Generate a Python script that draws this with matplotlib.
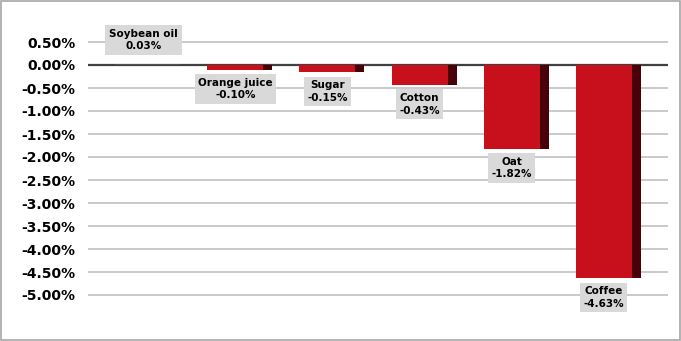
import numpy as np
import matplotlib
matplotlib.use('Agg')
import matplotlib.pyplot as plt
from matplotlib.patches import Rectangle

categories = ['Soybean oil', 'Orange juice', 'Sugar', 'Cotton', 'Oat', 'Coffee']
values = [0.03, -0.10, -0.15, -0.43, -1.82, -4.63]
yticks = [0.5, 0.0, -0.5, -1.0, -1.5, -2.0, -2.5, -3.0, -3.5, -4.0, -4.5, -5.0]

red = '#C8101C'
dark = '#4A0008'

fig = plt.figure(figsize=(6.81, 3.41), dpi=100)
fig.patches.append(Rectangle((0.001, 0.002), 0.997, 0.995, transform=fig.transFigure,
                             fill=False, edgecolor='#A6A6A6', linewidth=1.2))

# axes box chosen so gridlines span x 88..668 px
ax = fig.add_axes([88 / 681, 1 - 297.3 / 341, 580 / 681, (297.3 - 39.7) / 341])
ax.set_xlim(-0.652, 5.652)
ax.set_ylim(-5.05, 0.55)

for t in yticks:
    ax.axhline(t, color='#404040' if t == 0 else '#C0C0C0',
               linewidth=1.6 if t == 0 else 1.2, zorder=1)

x = np.arange(len(categories))
front_w = 56 / 92
side_w = 9 / 92
shift = 4.5 / 92
ax.bar(x - shift, values, width=front_w, color=red, zorder=3)
ax.bar(x - shift + front_w / 2 + side_w / 2, values, width=side_w, color=dark, zorder=3)
# soybean bar is so thin it renders dark
ax.bar(x[0] - shift + side_w / 2, values[0], width=front_w + side_w, color='#505050', zorder=3)

box = dict(boxstyle='square,pad=0.35', fc='#D9D9D9', ec='none')
for xi, v, name in zip(x, values, categories):
    txt = f'{name}\n{v:.2f}%'
    if v >= 0:
        ax.annotate(txt, (xi - shift, v), xytext=(0, 9), textcoords='offset points',
                    ha='center', va='bottom', fontsize=7.5, fontweight='bold',
                    linespacing=1.3, bbox=box, annotation_clip=False, zorder=4)
    else:
        ax.annotate(txt, (xi - shift, v), xytext=(0, -6), textcoords='offset points',
                    ha='center', va='top', fontsize=7.5, fontweight='bold',
                    linespacing=1.3, bbox=box, annotation_clip=False, zorder=4)

ax.set_yticks(yticks)
ax.set_yticklabels([f'{t:.2f}%' for t in yticks], fontsize=10, fontweight='bold')
ax.tick_params(axis='y', length=0, pad=9)
ax.set_xticks([])
for s in ax.spines.values():
    s.set_visible(False)

fig.savefig('out.png', dpi=100)
